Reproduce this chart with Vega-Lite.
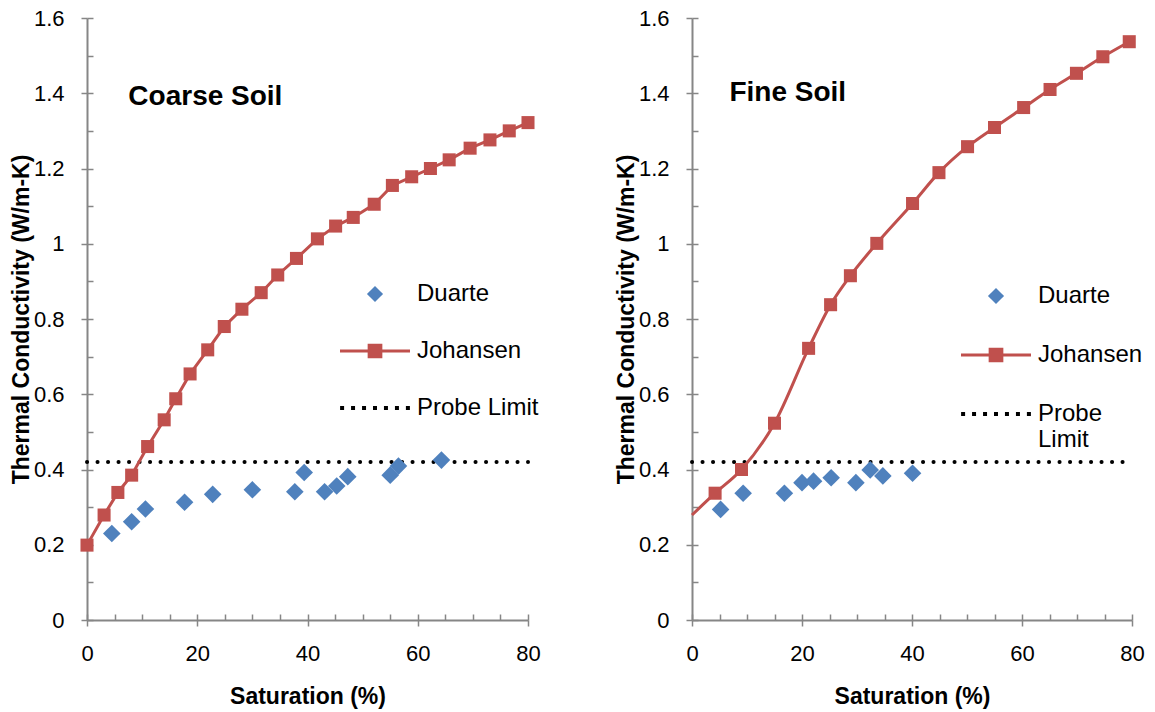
{
  "$schema": "https://vega.github.io/schema/vega-lite/v6.json",
  "background": "white",
  "padding": {"left": 10, "top": 7, "right": 5, "bottom": 5},
  "config": {
    "font": "Liberation Sans",
    "view": {"stroke": null},
    "axis": {"grid": false, "labelFlush": false, "domainColor": "#868686", "domainWidth": 2, "tickColor": "#868686", "tickWidth": 1.5, "labelColor": "#000000", "labelFontSize": 22, "labelFont": "Liberation Sans", "titleColor": "#000000", "titleFontSize": 23, "titleFontWeight": "bold", "titleFont": "Liberation Sans", "labelPadding": 17}
  },
  "datasets": {
    "coarse": [
      {"series": "Probe Limit", "saturation": 0, "k": 0.42},
      {"series": "Probe Limit", "saturation": 80, "k": 0.42},
      {"series": "Johansen", "saturation": 0, "k": 0.199},
      {"series": "Johansen", "saturation": 3.1, "k": 0.279},
      {"series": "Johansen", "saturation": 5.6, "k": 0.339},
      {"series": "Johansen", "saturation": 8.1, "k": 0.385},
      {"series": "Johansen", "saturation": 11.0, "k": 0.461},
      {"series": "Johansen", "saturation": 14.0, "k": 0.532},
      {"series": "Johansen", "saturation": 16.1, "k": 0.588},
      {"series": "Johansen", "saturation": 18.7, "k": 0.654},
      {"series": "Johansen", "saturation": 21.9, "k": 0.718},
      {"series": "Johansen", "saturation": 24.9, "k": 0.78},
      {"series": "Johansen", "saturation": 28.1, "k": 0.826},
      {"series": "Johansen", "saturation": 31.6, "k": 0.87},
      {"series": "Johansen", "saturation": 34.6, "k": 0.917},
      {"series": "Johansen", "saturation": 38.0, "k": 0.961},
      {"series": "Johansen", "saturation": 41.8, "k": 1.013},
      {"series": "Johansen", "saturation": 45.1, "k": 1.047},
      {"series": "Johansen", "saturation": 48.3, "k": 1.07},
      {"series": "Johansen", "saturation": 52.1, "k": 1.105},
      {"series": "Johansen", "saturation": 55.4, "k": 1.155},
      {"series": "Johansen", "saturation": 58.9, "k": 1.178},
      {"series": "Johansen", "saturation": 62.3, "k": 1.2},
      {"series": "Johansen", "saturation": 65.7, "k": 1.223},
      {"series": "Johansen", "saturation": 69.5, "k": 1.254},
      {"series": "Johansen", "saturation": 73.1, "k": 1.276},
      {"series": "Johansen", "saturation": 76.6, "k": 1.3},
      {"series": "Johansen", "saturation": 80.0, "k": 1.322},
      {"series": "Duarte", "saturation": 4.5, "k": 0.23},
      {"series": "Duarte", "saturation": 8.1, "k": 0.261},
      {"series": "Duarte", "saturation": 10.6, "k": 0.295},
      {"series": "Duarte", "saturation": 17.7, "k": 0.313},
      {"series": "Duarte", "saturation": 22.8, "k": 0.334},
      {"series": "Duarte", "saturation": 30.0, "k": 0.346},
      {"series": "Duarte", "saturation": 37.7, "k": 0.341},
      {"series": "Duarte", "saturation": 39.4, "k": 0.392},
      {"series": "Duarte", "saturation": 43.1, "k": 0.341},
      {"series": "Duarte", "saturation": 45.3, "k": 0.356},
      {"series": "Duarte", "saturation": 47.3, "k": 0.381},
      {"series": "Duarte", "saturation": 55.0, "k": 0.385},
      {"series": "Duarte", "saturation": 56.5, "k": 0.409},
      {"series": "Duarte", "saturation": 64.3, "k": 0.425}
    ],
    "fine": [
      {"series": "Probe Limit", "saturation": 0, "k": 0.42},
      {"series": "Probe Limit", "saturation": 80, "k": 0.42},
      {"series": "Johansen", "saturation": 0, "k": 0.279},
      {"series": "Johansen", "saturation": 4.2, "k": 0.337},
      {"series": "Johansen", "saturation": 9.0, "k": 0.4},
      {"series": "Johansen", "saturation": 15.0, "k": 0.523},
      {"series": "Johansen", "saturation": 21.2, "k": 0.722},
      {"series": "Johansen", "saturation": 25.2, "k": 0.838},
      {"series": "Johansen", "saturation": 28.8, "k": 0.915},
      {"series": "Johansen", "saturation": 33.6, "k": 1.001},
      {"series": "Johansen", "saturation": 40.1, "k": 1.107},
      {"series": "Johansen", "saturation": 44.9, "k": 1.189},
      {"series": "Johansen", "saturation": 50.1, "k": 1.258},
      {"series": "Johansen", "saturation": 55.0, "k": 1.309},
      {"series": "Johansen", "saturation": 60.3, "k": 1.362},
      {"series": "Johansen", "saturation": 65.1, "k": 1.41},
      {"series": "Johansen", "saturation": 69.9, "k": 1.453},
      {"series": "Johansen", "saturation": 74.7, "k": 1.497},
      {"series": "Johansen", "saturation": 79.5, "k": 1.537},
      {"series": "Duarte", "saturation": 5.2, "k": 0.294},
      {"series": "Duarte", "saturation": 9.3, "k": 0.337},
      {"series": "Duarte", "saturation": 16.8, "k": 0.337},
      {"series": "Duarte", "saturation": 20.0, "k": 0.365},
      {"series": "Duarte", "saturation": 22.1, "k": 0.369},
      {"series": "Duarte", "saturation": 25.3, "k": 0.378},
      {"series": "Duarte", "saturation": 29.8, "k": 0.365},
      {"series": "Duarte", "saturation": 32.4, "k": 0.399},
      {"series": "Duarte", "saturation": 34.7, "k": 0.383},
      {"series": "Duarte", "saturation": 40.1, "k": 0.39}
    ]
  },
  "spacing": 164,
  "bounds": "flush",
  "resolve": {
    "scale": {"color": "independent", "shape": "independent"},
    "legend": {"color": "independent", "shape": "independent"}
  },
  "hconcat": [
    {
      "width": 441,
      "height": 602,
      "resolve": {"axis": {"x": "independent", "y": "independent"}},
      "layer": [
        {
          "data": {"name": "coarse"},
          "transform": [{"filter": "datum.series === 'Probe Limit'"}],
          "mark": {"type": "line", "color": "#000000", "strokeWidth": 4, "strokeDash": [0.1, 10.4], "strokeCap": "round"},
          "encoding": {
            "x": {"field": "saturation", "type": "quantitative", "scale": {"domain": [0, 80], "nice": false, "zero": false},
              "axis": {"orient": "bottom", "values": [0, 20, 40, 60, 80], "tickSize": 6, "format": "d", "title": "Saturation (%)", "titleX": 220.5, "titleY": 76, "titleBaseline": "middle", "titleAlign": "center"}},
            "y": {"field": "k", "type": "quantitative", "scale": {"domain": [0, 1.6], "nice": false},
              "axis": {"orient": "left", "values": [0, 0.2, 0.4, 0.6, 0.8, 1, 1.2, 1.4, 1.6], "tickSize": 6, "format": "~g", "title": "Thermal Conductivity (W/m-K)", "titleX": -66, "titleY": 301, "titleAngle": -90, "titleBaseline": "middle", "titleAlign": "center"}}
          }
        },
        {
          "data": {"name": "coarse"},
          "transform": [{"filter": "datum.series === 'Johansen'"}],
          "mark": {"type": "line", "color": "#C0504D", "strokeWidth": 3},
          "encoding": {
            "x": {"field": "saturation", "type": "quantitative",
              "axis": {"orient": "bottom", "values": [0, 5, 10, 15, 20, 25, 30, 35, 40, 45, 50, 55, 60, 65, 70, 75, 80], "tickSize": -6, "labels": false, "domain": false, "title": null}},
            "y": {"field": "k", "type": "quantitative",
              "axis": {"orient": "left", "values": [0, 0.1, 0.2, 0.3, 0.4, 0.5, 0.6, 0.7, 0.8, 0.9, 1, 1.1, 1.2, 1.3, 1.4, 1.5, 1.6], "tickSize": -6, "labels": false, "domain": false, "title": null}}
          }
        },
        {
          "data": {"name": "coarse"},
          "transform": [{"filter": "datum.series === 'Johansen'"}],
          "mark": {"type": "point", "shape": "square", "filled": true, "size": 170, "color": "#C0504D", "opacity": 1},
          "encoding": {
            "x": {"field": "saturation", "type": "quantitative", "axis": null},
            "y": {"field": "k", "type": "quantitative", "axis": null}
          }
        },
        {
          "data": {"name": "coarse"},
          "transform": [{"filter": "datum.series === 'Duarte'"}],
          "mark": {"type": "point", "shape": "diamond", "filled": true, "size": 310, "color": "#4F81BD", "opacity": 1},
          "encoding": {
            "x": {"field": "saturation", "type": "quantitative", "axis": null},
            "y": {"field": "k", "type": "quantitative", "axis": null}
          }
        },
        {
          "data": {"values": [{"label": "Coarse Soil"}]},
          "mark": {"type": "text", "align": "left", "baseline": "middle", "fontSize": 28, "fontWeight": "bold", "color": "#000000"},
          "encoding": {
            "x": {"datum": 7.5, "type": "quantitative", "axis": null},
            "y": {"datum": 1.39, "type": "quantitative", "axis": null},
            "text": {"field": "label"}
          }
        },
        {
          "data": {"name": "coarse"},
          "transform": [{"filter": "false"}],
          "mark": {"type": "point", "filled": true},
          "encoding": {
            "x": {"field": "saturation", "type": "quantitative", "axis": null},
            "y": {"field": "k", "type": "quantitative", "axis": null},
            "color": {"field": "series", "type": "nominal",
              "scale": {"domain": ["Duarte", "Johansen", "Probe Limit"], "range": ["#4F81BD", "#C0504D", "#000000"]},
              "legend": {"orient": "none", "legendX": 253, "legendY": 241, "title": null, "symbolSize": 4900, "symbolStrokeWidth": 0, "symbolOpacity": 1, "labelFontSize": 24, "labelFont": "Liberation Sans", "labelColor": "#000000", "labelOffset": 7, "rowPadding": 10, "padding": 0, "labelLimit": 300}},
            "shape": {"field": "series", "type": "nominal",
              "scale": {"domain": ["Duarte", "Johansen", "Probe Limit"], "range": [
                "M0,-0.23L0.23,0L0,0.23L-0.23,0Z",
                "M-1,-0.045L1,-0.045L1,0.045L-1,0.045Z M-0.21,-0.21L0.21,-0.21L0.21,0.21L-0.21,0.21Z",
                "M-0.997,-0.057L-0.883,-0.057L-0.883,0.057L-0.997,0.057Z M-0.684,-0.057L-0.57,-0.057L-0.57,0.057L-0.684,0.057Z M-0.37,-0.057L-0.256,-0.057L-0.256,0.057L-0.37,0.057Z M-0.057,-0.057L0.057,-0.057L0.057,0.057L-0.057,0.057Z M0.256,-0.057L0.37,-0.057L0.37,0.057L0.256,0.057Z M0.57,-0.057L0.684,-0.057L0.684,0.057L0.57,0.057Z M0.883,-0.057L0.997,-0.057L0.997,0.057L0.883,0.057Z"
              ]},
              "legend": {"orient": "none", "legendX": 253, "legendY": 241, "title": null, "symbolSize": 4900, "symbolStrokeWidth": 0, "symbolOpacity": 1, "labelFontSize": 24, "labelFont": "Liberation Sans", "labelColor": "#000000", "labelOffset": 7, "rowPadding": 10, "padding": 0, "labelLimit": 300}}
          }
        }
      ]
    },
    {
      "width": 440,
      "height": 602,
      "resolve": {"axis": {"x": "independent", "y": "independent"}},
      "layer": [
        {
          "data": {"name": "fine"},
          "transform": [{"filter": "datum.series === 'Probe Limit'"}],
          "mark": {"type": "line", "color": "#000000", "strokeWidth": 4, "strokeDash": [0.1, 10.4], "strokeCap": "round"},
          "encoding": {
            "x": {"field": "saturation", "type": "quantitative", "scale": {"domain": [0, 80], "nice": false, "zero": false},
              "axis": {"orient": "bottom", "values": [0, 20, 40, 60, 80], "tickSize": 6, "format": "d", "title": "Saturation (%)", "titleX": 220, "titleY": 76, "titleBaseline": "middle", "titleAlign": "center"}},
            "y": {"field": "k", "type": "quantitative", "scale": {"domain": [0, 1.6], "nice": false},
              "axis": {"orient": "left", "values": [0, 0.2, 0.4, 0.6, 0.8, 1, 1.2, 1.4, 1.6], "tickSize": 6, "format": "~g", "title": "Thermal Conductivity (W/m-K)", "titleX": -66, "titleY": 301, "titleAngle": -90, "titleBaseline": "middle", "titleAlign": "center"}}
          }
        },
        {
          "data": {"name": "fine"},
          "transform": [{"filter": "datum.series === 'Johansen'"}],
          "mark": {"type": "line", "color": "#C0504D", "strokeWidth": 3, "interpolate": "monotone"},
          "encoding": {
            "x": {"field": "saturation", "type": "quantitative",
              "axis": {"orient": "bottom", "values": [0, 5, 10, 15, 20, 25, 30, 35, 40, 45, 50, 55, 60, 65, 70, 75, 80], "tickSize": -6, "labels": false, "domain": false, "title": null}},
            "y": {"field": "k", "type": "quantitative",
              "axis": {"orient": "left", "values": [0, 0.1, 0.2, 0.3, 0.4, 0.5, 0.6, 0.7, 0.8, 0.9, 1, 1.1, 1.2, 1.3, 1.4, 1.5, 1.6], "tickSize": -6, "labels": false, "domain": false, "title": null}}
          }
        },
        {
          "data": {"name": "fine"},
          "transform": [{"filter": "datum.series === 'Johansen' && datum.saturation > 0"}],
          "mark": {"type": "point", "shape": "square", "filled": true, "size": 170, "color": "#C0504D", "opacity": 1},
          "encoding": {
            "x": {"field": "saturation", "type": "quantitative", "axis": null},
            "y": {"field": "k", "type": "quantitative", "axis": null}
          }
        },
        {
          "data": {"name": "fine"},
          "transform": [{"filter": "datum.series === 'Duarte'"}],
          "mark": {"type": "point", "shape": "diamond", "filled": true, "size": 310, "color": "#4F81BD", "opacity": 1},
          "encoding": {
            "x": {"field": "saturation", "type": "quantitative", "axis": null},
            "y": {"field": "k", "type": "quantitative", "axis": null}
          }
        },
        {
          "data": {"values": [{"label": "Fine Soil"}]},
          "mark": {"type": "text", "align": "left", "baseline": "middle", "fontSize": 28, "fontWeight": "bold", "color": "#000000"},
          "encoding": {
            "x": {"datum": 6.8, "type": "quantitative", "axis": null},
            "y": {"datum": 1.4, "type": "quantitative", "axis": null},
            "text": {"field": "label"}
          }
        },
        {
          "data": {"name": "fine"},
          "transform": [{"filter": "false"}],
          "mark": {"type": "point", "filled": true},
          "encoding": {
            "x": {"field": "saturation", "type": "quantitative", "axis": null},
            "y": {"field": "k", "type": "quantitative", "axis": null},
            "color": {"field": "series", "type": "nominal",
              "scale": {"domain": ["Duarte", "Johansen", "Probe Limit"], "range": ["#4F81BD", "#C0504D", "#000000"]},
              "legend": {"orient": "none", "legendX": 269, "legendY": 243, "title": null, "symbolSize": 4900, "symbolStrokeWidth": 0, "symbolOpacity": 1, "labelFontSize": 24, "labelFont": "Liberation Sans", "labelColor": "#000000", "labelOffset": 7, "rowPadding": 12, "padding": 0, "labelLimit": 300, "labelExpr": "datum.label === 'Probe Limit' ? ['Probe', 'Limit'] : datum.label"}},
            "shape": {"field": "series", "type": "nominal",
              "scale": {"domain": ["Duarte", "Johansen", "Probe Limit"], "range": [
                "M0,-0.23L0.23,0L0,0.23L-0.23,0Z",
                "M-1,-0.045L1,-0.045L1,0.045L-1,0.045Z M-0.21,-0.21L0.21,-0.21L0.21,0.21L-0.21,0.21Z",
                "M-0.997,-0.057L-0.883,-0.057L-0.883,0.057L-0.997,0.057Z M-0.684,-0.057L-0.57,-0.057L-0.57,0.057L-0.684,0.057Z M-0.37,-0.057L-0.256,-0.057L-0.256,0.057L-0.37,0.057Z M-0.057,-0.057L0.057,-0.057L0.057,0.057L-0.057,0.057Z M0.256,-0.057L0.37,-0.057L0.37,0.057L0.256,0.057Z M0.57,-0.057L0.684,-0.057L0.684,0.057L0.57,0.057Z M0.883,-0.057L0.997,-0.057L0.997,0.057L0.883,0.057Z"
              ]},
              "legend": {"orient": "none", "legendX": 269, "legendY": 243, "title": null, "symbolSize": 4900, "symbolStrokeWidth": 0, "symbolOpacity": 1, "labelFontSize": 24, "labelFont": "Liberation Sans", "labelColor": "#000000", "labelOffset": 7, "rowPadding": 12, "padding": 0, "labelLimit": 300, "labelExpr": "datum.label === 'Probe Limit' ? ['Probe', 'Limit'] : datum.label"}}
          }
        }
      ]
    }
  ]
}
